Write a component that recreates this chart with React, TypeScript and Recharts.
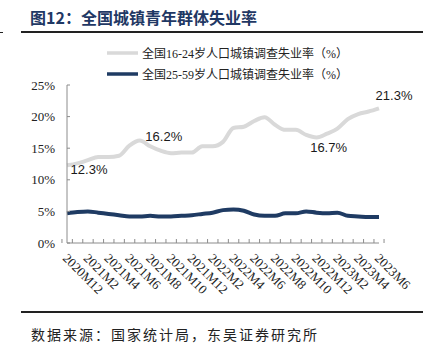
import { LineChart, Line, XAxis, YAxis, LabelList } from "recharts";

const MONTHS = [
  "2020M12",
  "2021M1", "2021M2", "2021M3", "2021M4", "2021M5", "2021M6",
  "2021M7", "2021M8", "2021M9", "2021M10", "2021M11", "2021M12",
  "2022M1", "2022M2", "2022M3", "2022M4", "2022M5", "2022M6",
  "2022M7", "2022M8", "2022M9", "2022M10", "2022M11", "2022M12",
  "2023M1", "2023M2", "2023M3", "2023M4", "2023M5", "2023M6",
];

// 16-24岁
const YOUTH = [
  12.3,
  12.6, 13.1, 13.6, 13.6, 13.8, 15.4, 16.2, 15.3, 14.6, 14.2, 14.3, 14.3,
  15.3, 15.3, 16.0, 18.2, 18.4, 19.3, 19.9, 18.7, 17.9, 17.9, 17.1, 16.7,
  17.3, 18.1, 19.6, 20.4, 20.8, 21.3,
];

// 25-59岁
const PRIME = [
  4.7,
  4.9, 5.0, 4.8, 4.6, 4.4, 4.2, 4.2, 4.3, 4.2, 4.2, 4.3, 4.4,
  4.6, 4.8, 5.2, 5.3, 5.1, 4.5, 4.3, 4.3, 4.7, 4.7, 5.0, 4.8,
  4.7, 4.8, 4.3, 4.2, 4.1, 4.1,
];

const Y_TICKS = [0, 5, 10, 15, 20, 25];

const SERIES = [
  { key: "youth", name: "全国16-24岁人口城镇调查失业率（%）", color: "#d9d9d9" },
  { key: "prime", name: "全国25-59岁人口城镇调查失业率（%）", color: "#1f3b63" },
];

// which youth points get a value label, and where the text sits relative to the point
const LABEL_OFFSETS: Record<number, [number, number]> = {
  0: [22, 9],
  7: [24, 0],
  24: [12, 15],
  30: [15, -8],
};

const W = 435;
const H = 352;
const PLOT_LEFT = 67;
const PLOT_RIGHT = 379;
const PLOT_TOP = 85;
const PLOT_BOTTOM = 243;
const BAND = (PLOT_RIGHT - PLOT_LEFT) / MONTHS.length;
const AXIS = "#8c8c8c";
const SERIF = '"Liberation Serif", "Times New Roman", "Noto Sans CJK SC", serif';

const data = MONTHS.map((month, i) => ({ month, youth: YOUTH[i], prime: PRIME[i] }));

function XTick({ x, y, index, payload }: any) {
  const half = BAND / 2;
  return (
    <g>
      <line x1={x - half} x2={x - half} y1={y - 4} y2={y} stroke={AXIS} />
      {index === MONTHS.length - 1 && (
        <line x1={x + half} x2={x + half} y1={y - 4} y2={y} stroke={AXIS} />
      )}
      {index % 2 === 0 && (
        <text
          x={x - 5}
          y={y + 16}
          transform={`rotate(45, ${x - 5}, ${y + 16})`}
          textAnchor="start"
          fontFamily={SERIF}
          fontSize={13}
          fill="#222"
        >
          {payload.value}
        </text>
      )}
    </g>
  );
}

function YTick({ x, y, payload }: any) {
  return (
    <g>
      <line x1={x} x2={x + 3} y1={y} y2={y} stroke={AXIS} />
      <text x={x - 12} y={y} dy={4.5} textAnchor="end" fontFamily={SERIF} fontSize={13} fill="#222">
        {payload.value}%
      </text>
    </g>
  );
}

function ValueLabel({ x, y, index, value }: any) {
  const off = LABEL_OFFSETS[index];
  if (!off) return null;
  return (
    <text
      x={x + off[0]}
      y={y + off[1]}
      textAnchor="middle"
      fontFamily='"Liberation Sans", Arial, sans-serif'
      fontSize={13}
      fill="#1a1a1a"
    >
      {value.toFixed(1)}%
    </text>
  );
}

export default function App() {
  return (
    <div style={{ position: "absolute", left: 0, top: 0, width: W, height: H, background: "#fff" }}>
      <div
        style={{
          position: "absolute", left: 30, top: 7, fontSize: 16, fontWeight: 700,
          fontFamily: '"Noto Sans CJK SC", sans-serif', color: "#1f3864", lineHeight: "20px",
        }}
      >
        图12：全国城镇青年群体失业率
      </div>
      <div style={{ position: "absolute", left: 21, top: 31, width: 402, height: 2, background: "#222" }} />
      <div style={{ position: "absolute", left: 0, top: 32, width: 3, height: 1, background: "#222" }} />

      {SERIES.map((s, i) => (
        <div
          key={s.key}
          style={{
            position: "absolute", left: 107, top: 45 + i * 21, height: 16, display: "flex",
            alignItems: "center", fontFamily: SERIF, fontSize: 12, color: "#222",
          }}
        >
          <svg width={35} height={16}>
            <line x1={0} x2={31} y1={8} y2={8} stroke={s.color} strokeWidth={3.5} />
          </svg>
          <span>{s.name}</span>
        </div>
      ))}

      <LineChart
        width={W}
        height={H}
        data={data}
        margin={{ top: PLOT_TOP, right: W - PLOT_RIGHT, bottom: 0, left: 0 }}
        style={{ position: "absolute", left: 0, top: 0 }}
      >
        <XAxis
          dataKey="month"
          interval={0}
          height={H - PLOT_BOTTOM}
          tickSize={0}
          tickMargin={0}
          tickLine={false}
          axisLine={{ stroke: AXIS }}
          tick={<XTick />}
        />
        <YAxis
          domain={[0, 25]}
          ticks={Y_TICKS}
          width={PLOT_LEFT}
          tickSize={0}
          tickMargin={0}
          tickLine={false}
          axisLine={{ stroke: AXIS }}
          tick={<YTick />}
        />
        <Line
          dataKey="youth"
          type="monotone"
          stroke={SERIES[0].color}
          strokeWidth={4}
          dot={false}
          isAnimationActive={false}
        >
          <LabelList dataKey="youth" content={<ValueLabel />} />
        </Line>
        <Line
          dataKey="prime"
          type="monotone"
          stroke={SERIES[1].color}
          strokeWidth={4}
          dot={false}
          isAnimationActive={false}
        />
      </LineChart>

      <div style={{ position: "absolute", left: 21, top: 311, width: 402, height: 2, background: "#222" }} />
      <div
        style={{
          position: "absolute", left: 31, top: 325, fontSize: 14, letterSpacing: 2,
          fontFamily: '"Noto Sans CJK SC", sans-serif', color: "#222", lineHeight: "18px",
        }}
      >
        数据来源：国家统计局，东吴证券研究所
      </div>
    </div>
  );
}
